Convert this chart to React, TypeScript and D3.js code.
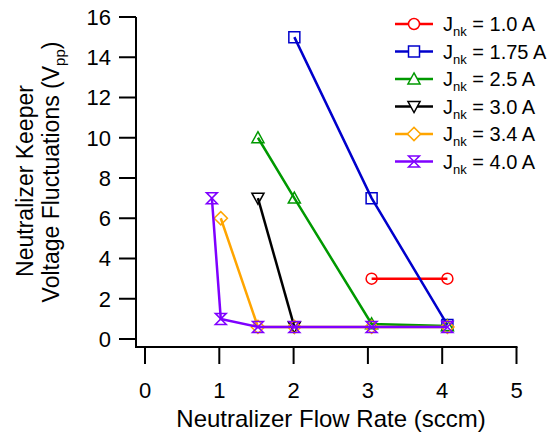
import React from "react";
import * as d3 from "d3";

const xTicks = [0, 1, 2, 3, 4, 5];
const yTicks = [0, 2, 4, 6, 8, 10, 12, 14, 16];

const seriesNames = ["1.0 A", "1.75 A", "2.5 A", "3.0 A", "3.4 A", "4.0 A"];
const seriesColors = ["#ff0000", "#0000cc", "#009900", "#000000", "#ffa500", "#7f00ff"];
const seriesMarkers = ["circle", "square", "triangle", "triangleDown", "diamond", "hourglass"];

const x10 = [3.05, 4.07];
const y10 = [3, 3];
const x175 = [2.01, 3.05, 4.07];
const y175 = [15, 7, 0.7];
const x25 = [1.52, 2.01, 3.05, 4.07];
const y25 = [10, 7, 0.75, 0.65];
const x30 = [1.52, 2.01];
const y30 = [7, 0.6];
const x34 = [1.02, 1.52, 2.01, 3.05, 4.07];
const y34 = [6, 0.6, 0.6, 0.6, 0.6];
const x40 = [0.9, 1.02, 1.52, 2.01, 3.05, 4.07];
const y40 = [7, 1.0, 0.6, 0.6, 0.6, 0.6];

const seriesX = [x10, x175, x25, x30, x34, x40];
const seriesY = [y10, y175, y25, y30, y34, y40];

const FONT = "Liberation Sans, Arial, sans-serif";

function markerPath(type: string, s: number): string {
  switch (type) {
    case "circle": {
      const p = d3.path();
      p.arc(0, 0, s, 0, Math.PI * 2);
      return p.toString();
    }
    case "square":
      return `M${-s},${-s}H${s}V${s}H${-s}Z`;
    case "triangle":
      return `M0,${-s * 1.1}L${s * 1.1},${s * 0.9}L${-s * 1.1},${s * 0.9}Z`;
    case "triangleDown":
      return `M0,${s * 1.1}L${s * 1.1},${-s * 0.9}L${-s * 1.1},${-s * 0.9}Z`;
    case "diamond":
      return `M0,${-s * 1.2}L${s * 1.2},0L0,${s * 1.2}L${-s * 1.2},0Z`;
    case "hourglass":
      return `M${-s},${-s}L${s},${-s}L${-s},${s}L${s},${s}Z`;
  }
  return "";
}

export default function App() {
  const W = 560;
  const H = 433;
  const xScale = d3.scaleLinear().domain([0, 5]).range([145, 516.5]);
  const yScale = d3.scaleLinear().domain([0, 16]).range([339, 17]);
  const axisX = 136;
  const axisY = 347;
  const line = d3
    .line<[number, number]>()
    .x((d) => xScale(d[0]))
    .y((d) => yScale(d[1]));

  return (
    <svg width={W} height={H} style={{ position: "absolute", left: 0, top: 0, background: "#fff" }}>
      <rect x={0} y={0} width={W} height={H} fill="#fff" />
      {/* Y axis */}
      <line x1={axisX} x2={axisX} y1={yScale(16)} y2={axisY + 1} stroke="#000" strokeWidth={2} />
      {yTicks.map((t) => (
        <g key={"y" + t}>
          <line x1={axisX - 17} x2={axisX} y1={yScale(t)} y2={yScale(t)} stroke="#000" strokeWidth={2} />
          <text
            x={axisX - 25}
            y={yScale(t)}
            dy="0.36em"
            textAnchor="end"
            fontFamily={FONT}
            fontSize={22}
            fill="#000"
          >
            {t}
          </text>
        </g>
      ))}
      {/* X axis */}
      <line x1={axisX - 1} x2={xScale(5) + 1} y1={axisY} y2={axisY} stroke="#000" strokeWidth={2} />
      {xTicks.map((t) => (
        <g key={"x" + t}>
          <line x1={xScale(t)} x2={xScale(t)} y1={axisY} y2={axisY + 17} stroke="#000" strokeWidth={2} />
          <text
            x={xScale(t)}
            y={398}
            textAnchor="middle"
            fontFamily={FONT}
            fontSize={22}
            fill="#000"
          >
            {t}
          </text>
        </g>
      ))}
      <text x={331} y={427} textAnchor="middle" fontFamily={FONT} fontSize={24} fill="#000">
        Neutralizer Flow Rate (sccm)
      </text>
      {/* Y title */}
      <g transform="translate(33,181) rotate(-90)">
        <text x={0} y={0} textAnchor="middle" fontFamily={FONT} fontSize={23} fill="#000">
          Neutralizer Keeper
        </text>
      </g>
      <g transform="translate(59,172) rotate(-90)">
        <text x={0} y={0} textAnchor="middle" fontFamily={FONT} fontSize={23} fill="#000">
          Voltage Fluctuations (V
          <tspan fontSize={15} dy={6}>pp</tspan>
          <tspan dy={-6}>)</tspan>
        </text>
      </g>
      {/* Series */}
      {seriesX.map((xs, i) => {
        const pts: [number, number][] = xs.map((v, j) => [v, seriesY[i][j]]);
        return (
          <g key={"s" + i}>
            <path d={line(pts) || ""} fill="none" stroke={seriesColors[i]} strokeWidth={2.5} />
            {pts.map((p, j) => (
              <path
                key={j}
                d={markerPath(seriesMarkers[i], 5.5)}
                transform={`translate(${xScale(p[0])},${yScale(p[1])})`}
                fill="none"
                stroke={seriesColors[i]}
                strokeWidth={1.5}
              />
            ))}
          </g>
        );
      })}
      {/* Legend */}
      {seriesNames.map((name, i) => {
        const y = 24 + i * 27.5;
        return (
          <g key={"l" + i}>
            <line x1={395} x2={433} y1={y} y2={y} stroke={seriesColors[i]} strokeWidth={2.5} />
            <path
              d={markerPath(seriesMarkers[i], 5.5)}
              transform={`translate(414,${y})`}
              fill="#fff"
              stroke={seriesColors[i]}
              strokeWidth={1.5}
            />
            <text x={443} y={y + 7} fontFamily={FONT} fontSize={20} fill="#000">
              J<tspan fontSize={13} dy={5}>nk</tspan>
              <tspan dy={-5}> = {name}</tspan>
            </text>
          </g>
        );
      })}
    </svg>
  );
}
